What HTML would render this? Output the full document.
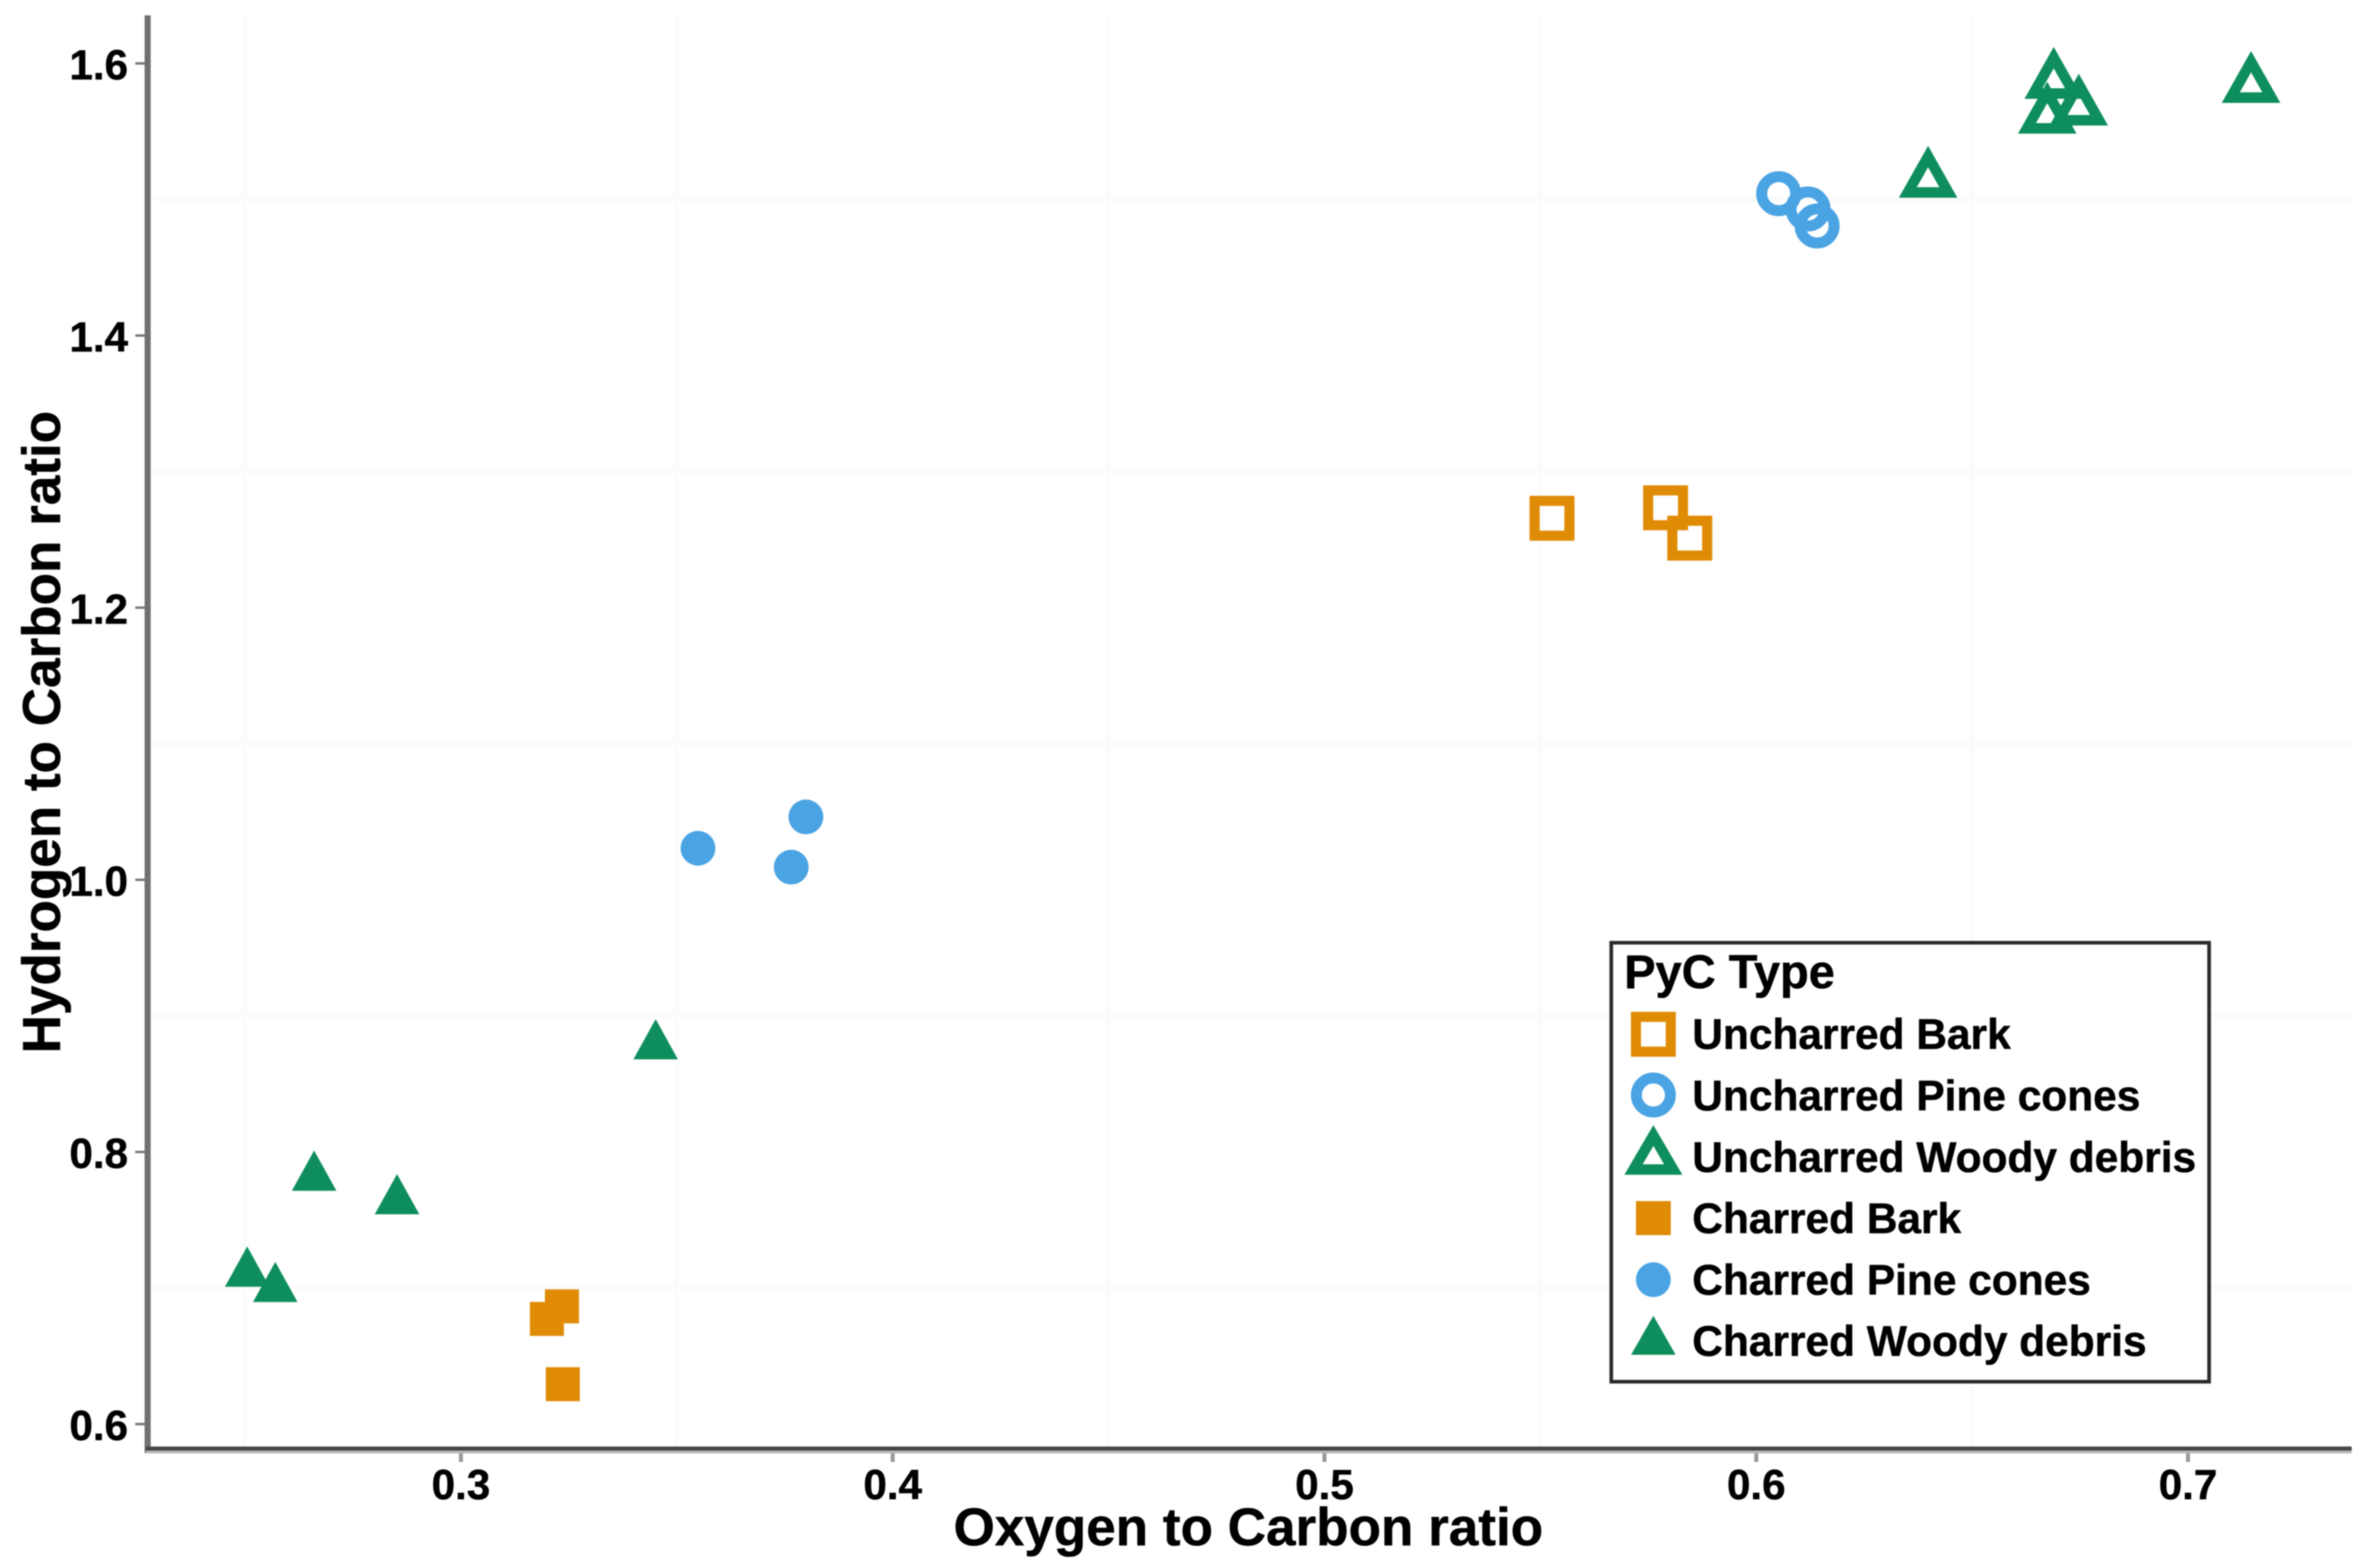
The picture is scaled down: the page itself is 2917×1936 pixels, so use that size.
<!DOCTYPE html>
<html lang="en">
<head>
<meta charset="utf-8">
<title>Hydrogen to Carbon vs Oxygen to Carbon ratio by PyC type</title>
<style>
  html, body { margin: 0; padding: 0; background: #fff; width: 2917px; height: 1936px; overflow: hidden; }
  svg { display: block; filter: blur(0.8px); }
  text { font-family: "Liberation Sans", Arial, sans-serif; font-weight: 700; fill: #000; stroke: #000; stroke-width: 0.6px; }
</style>
</head>
<body>
<svg id="chart" xmlns="http://www.w3.org/2000/svg" width="2917" height="1936" viewBox="0 0 2917 1936">
  <rect x="0" y="0" width="2917" height="1936" fill="#ffffff"/>
  <g id="grid"></g>
  <g id="points"></g>
  <g id="ticks"></g>
  <rect x="178.5" y="19" width="7.5" height="1775" fill="#707070"/>
  <rect x="180" y="1790" width="2723" height="4.5" fill="#b8b8b8"/>
  <rect x="180" y="1786" width="2723" height="5" fill="#454545"/>
  <g id="tick-labels"></g>
  <text x="1541" y="1908" font-size="65.5" text-anchor="middle">Oxygen to Carbon ratio</text>
  <text transform="translate(74 904) rotate(-90)" font-size="65.5" text-anchor="middle">Hydrogen to Carbon ratio</text>

  <g>
    <rect x="1989" y="1164" width="738" height="542" fill="#ffffff" stroke="#2a2a2a" stroke-width="4.5"/>
    <text x="2005" y="1220" font-size="58">PyC Type</text>

    <g>
      <rect x="2019.5" y="1255.5" width="43" height="43" fill="none" stroke="#e08b05" stroke-width="12.5"/>
      <text x="2089" y="1295" font-size="52.4">Uncharred Bark</text>
    </g>
    <g>
      <circle cx="2041" cy="1352" r="21" fill="none" stroke="#4aa3e3" stroke-width="13.5"/>
      <text x="2089" y="1371" font-size="52.4">Uncharred Pine cones</text>
    </g>
    <g>
      <polygon points="2041,1402 2065.5,1444 2016.5,1444" fill="none" stroke="#0e8e5c" stroke-width="13" stroke-miterlimit="10"/>
      <text x="2089" y="1447" font-size="52.4">Uncharred Woody debris</text>
    </g>
    <g>
      <rect x="2019.5" y="1483" width="43" height="42" fill="#e08b05"/>
      <text x="2089" y="1522.5" font-size="52.4">Charred Bark</text>
    </g>
    <g>
      <circle cx="2041" cy="1580" r="21.5" fill="#4aa3e3"/>
      <text x="2089" y="1598.5" font-size="52.4">Charred Pine cones</text>
    </g>
    <g>
      <polygon points="2041,1624.5 2068.5,1672.7 2013.5,1672.7" fill="#0e8e5c"/>
      <text x="2089" y="1674" font-size="52.4">Charred Woody debris</text>
    </g>
  </g>
</svg>

<script>
// Chart data
const xTicks = [0.3, 0.4, 0.5, 0.6, 0.7];
const xTickLabels = ['0.3', '0.4', '0.5', '0.6', '0.7'];
const yTicks = [0.6, 0.8, 1.0, 1.2, 1.4, 1.6];
const yTickLabels = ['0.6', '0.8', '1.0', '1.2', '1.4', '1.6'];
const xGridValues = [0.25, 0.35, 0.45, 0.55, 0.65];
const yGridValues = [0.7, 0.9, 1.1, 1.3, 1.5];

const unchBarkX = [0.5527, 0.5790, 0.5846];
const unchBarkY = [1.2657, 1.2734, 1.2511];
const unchPineX = [0.6052, 0.6120, 0.6141];
const unchPineY = [1.5043, 1.4930, 1.4805];
const unchWoodX = [0.6398, 0.6689, 0.6674, 0.6747, 0.7146];
const unchWoodY = [1.5140, 1.5867, 1.5611, 1.5670, 1.5837];
const charBarkX = [0.3234, 0.3199, 0.3236];
const charBarkY = [0.6865, 0.6773, 0.6293];
const charPineX = [0.3549, 0.3799, 0.3765];
const charPineY = [1.0232, 1.0462, 1.0093];
const charWoodX = [0.2660, 0.2852, 0.2505, 0.2570, 0.3451];
const charWoodY = [0.7814, 0.7641, 0.7109, 0.6996, 0.8780];

const NS = 'http://www.w3.org/2000/svg';
const ORANGE = '#e08b05';
const BLUE = '#4aa3e3';
const GREEN = '#0e8e5c';

function xScale(v) { return 1635 + (v - 0.5) * 5330; }
function yScale(v) { return 78.3 + (1.6 - v) * 1680; }

function make(tag, attrs, parent) {
  const el = document.createElementNS(NS, tag);
  Object.keys(attrs).forEach(function (k) { el.setAttribute(k, attrs[k]); });
  parent.appendChild(el);
  return el;
}

const gridGroup = document.getElementById('grid');
const ticksGroup = document.getElementById('ticks');
const labelsGroup = document.getElementById('tick-labels');
const pointsGroup = document.getElementById('points');

xGridValues.forEach(function (v) {
  const el = make('line', { x1: xScale(v), x2: xScale(v), y1: 19, y2: 1786, stroke: '#fbfbfb', 'stroke-width': 6 }, gridGroup);
  
  
});
yGridValues.forEach(function (v) {
  const el = make('line', { x1: 190, x2: 2903, y1: yScale(v), y2: yScale(v), stroke: '#fbfbfb', 'stroke-width': 6 }, gridGroup);
  
  
});

xTicks.forEach(function (v, i) {
  const tick = make('line', { x1: xScale(v), x2: xScale(v), y1: 1790, y2: 1805, stroke: '#999999', 'stroke-width': 5 }, ticksGroup);
  
  
  const label = make('text', { x: xScale(v), y: 1851, 'font-size': 52, 'text-anchor': 'middle' }, labelsGroup);
  label.textContent = xTickLabels[i];
  
  
});
yTicks.forEach(function (v, i) {
  const tick = make('line', { x1: 167, x2: 179, y1: yScale(v), y2: yScale(v), stroke: '#777777', 'stroke-width': 3 }, ticksGroup);
  
  
  const label = make('text', { x: 158, y: yScale(v) + 19.5, 'font-size': 52, 'text-anchor': 'end' }, labelsGroup);
  label.textContent = yTickLabels[i];
  
  
});

function drawOpenSquares(xs, ys) {
  xs.forEach(function (v, i) {
    const cx = xScale(v), cy = yScale(ys[i]);
    const el = make('rect', { x: cx - 21.5, y: cy - 21.5, width: 43, height: 43, fill: 'none', stroke: ORANGE, 'stroke-width': 12.5 }, pointsGroup);
    
    
  });
}
function drawOpenCircles(xs, ys) {
  xs.forEach(function (v, i) {
    const el = make('circle', { cx: xScale(v), cy: yScale(ys[i]), r: 21, fill: 'none', stroke: BLUE, 'stroke-width': 13.5 }, pointsGroup);
    
    
  });
}
function drawOpenTriangles(xs, ys) {
  xs.forEach(function (v, i) {
    const cx = xScale(v), cy = yScale(ys[i]);
    const pts = [cx, cy - 29.5, cx + 25, cy + 14.8, cx - 25, cy + 14.8].join(' ');
    const el = make('polygon', { points: pts, fill: 'none', stroke: GREEN, 'stroke-width': 13, 'stroke-miterlimit': 10 }, pointsGroup);
    
    
  });
}
function drawSolidSquares(xs, ys) {
  xs.forEach(function (v, i) {
    const cx = xScale(v), cy = yScale(ys[i]);
    const el = make('rect', { x: cx - 21, y: cy - 21, width: 42, height: 42, fill: ORANGE }, pointsGroup);
    
    
  });
}
function drawSolidCircles(xs, ys) {
  xs.forEach(function (v, i) {
    const el = make('circle', { cx: xScale(v), cy: yScale(ys[i]), r: 21.5, fill: BLUE }, pointsGroup);
    
    
  });
}
function drawSolidTriangles(xs, ys) {
  xs.forEach(function (v, i) {
    const cx = xScale(v), cy = yScale(ys[i]);
    const pts = [cx, cy - 33, cx + 27.5, cy + 16.7, cx - 27.5, cy + 16.7].join(' ');
    const el = make('polygon', { points: pts, fill: GREEN }, pointsGroup);
    
    
  });
}

drawOpenSquares(unchBarkX, unchBarkY);
drawOpenCircles(unchPineX, unchPineY);
drawOpenTriangles(unchWoodX, unchWoodY);
drawSolidSquares(charBarkX, charBarkY);
drawSolidCircles(charPineX, charPineY);
drawSolidTriangles(charWoodX, charWoodY);
</script>
</body>
</html>
